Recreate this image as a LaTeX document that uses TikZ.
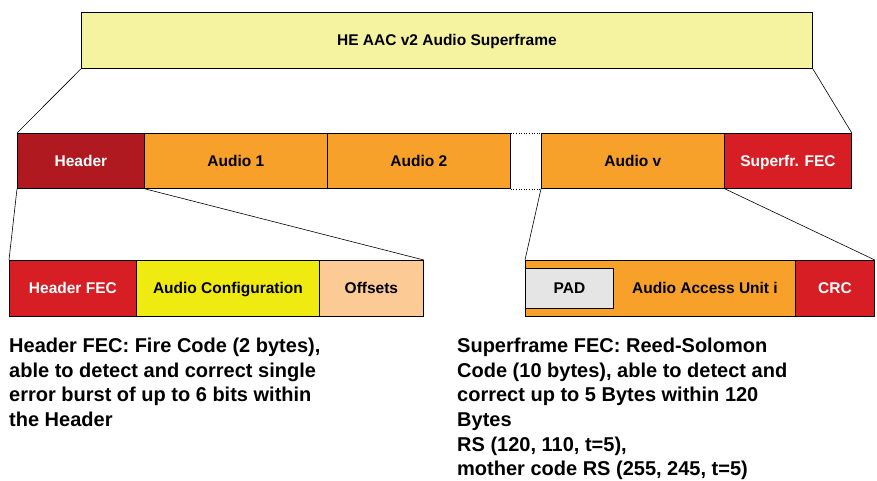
\documentclass[tikz,border=0pt]{standalone}
\usepackage{fontspec}
\setmainfont{Liberation Sans}
\usetikzlibrary{shapes,arrows}

\definecolor{paleyellow}{HTML}{F5F3A0}
\definecolor{darkred}{HTML}{B0191F}
\definecolor{fecred}{HTML}{D71E24}
\definecolor{audioorange}{HTML}{F7A12B}
\definecolor{cfgyellow}{HTML}{EFEA10}
\definecolor{peach}{HTML}{FCCB95}
\definecolor{padgray}{HTML}{E5E5E5}

\begin{document}
\begin{tikzpicture}[x=1pt,y=-1pt]
	\tikzstyle{field}=[rectangle,draw=black,line width=0.8pt,anchor=north west,
	inner sep=0pt,font=\fontsize{15.5}{17}\selectfont\bfseries,text=black,
	text height=11.1pt,text depth=0pt]
	\tikzstyle{whitefield}=[field,text=white]
	\tikzstyle{remark}=[anchor=north west,inner sep=0pt,align=left,
	font=\fontsize{20}{24.6}\selectfont\bfseries]
	\tikzstyle{zoomline}=[line width=0.6pt]

	\useasboundingbox (0,0) rectangle (877,480);

	% superframe
	\node[field,fill=paleyellow,minimum width=731,minimum height=56] (sf) at (81,12)
	{HE AAC v2 Audio Superframe};

	% audio frames
	\node[whitefield,fill=darkred,minimum width=127,minimum height=55] (hdr) at (17,133) {Header};
	\node[field,fill=audioorange,minimum width=183,minimum height=55] (au1) at (144,133) {Audio 1};
	\node[field,fill=audioorange,minimum width=183,minimum height=55] (au2) at (327,133) {Audio 2};
	\node[field,fill=audioorange,minimum width=183,minimum height=55] (auv) at (541,133) {Audio v};
	\node[whitefield,fill=fecred,minimum width=127,minimum height=55] (sfec) at (724,133) {Superfr. FEC};

	% header fields
	\node[whitefield,fill=fecred,minimum width=127,minimum height=56] (hfec) at (9,260) {Header FEC};
	\node[field,fill=cfgyellow,minimum width=183,minimum height=56] (cfg) at (136,260) {Audio Configuration};
	\node[field,fill=peach,minimum width=104,minimum height=56] (ofs) at (319,260) {Offsets};

	% audio access unit
	\node[field,fill=audioorange,minimum width=270,minimum height=56] (aau) at (525,260) {};
	\node[field,fill=padgray,minimum width=88,minimum height=40] (pad) at (525,268) {PAD};
	\node[font=\fontsize{15.5}{17}\selectfont\bfseries,text height=11.1pt,text depth=0pt]
	(aautxt) at (705,288) {Audio Access Unit i};
	\node[whitefield,fill=fecred,minimum width=79,minimum height=56] (crc) at (795,260) {CRC};

	\draw[zoomline] (sf.south west) -- (hdr.north west);
	\draw[zoomline] (sf.south east) -- (sfec.north east);
	\draw[zoomline,dotted] (au2.north east) -- (auv.north west);
	\draw[zoomline,dotted] (au2.south east) -- (auv.south west);
	\draw[zoomline] (hdr.south west) -- (hfec.north west);
	\draw[zoomline] (hdr.south east) -- (ofs.north east);
	\draw[zoomline] (auv.south west) -- (aau.north west);
	\draw[zoomline] (auv.south east) -- (crc.north east);

	% explanations
	\node[remark] (hdrnote) at (9,338) {Header FEC: Fire Code (2 bytes),\\
	able to detect and correct single\\error burst of up to 6 bits within\\the Header};
	\node[remark] (sfnote) at (457,338) {Superframe FEC: Reed-Solomon\\
	Code (10 bytes), able to detect and\\correct up to 5 Bytes within 120\\Bytes\\
	RS (120, 110, t=5),\\mother code RS (255, 245, t=5)};
\end{tikzpicture}
\end{document}
